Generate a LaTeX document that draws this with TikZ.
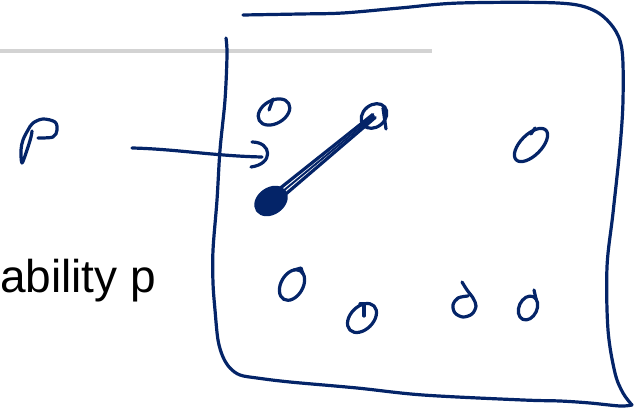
\documentclass[tikz,border=0pt]{standalone}
\usepackage{fontspec}
\setmainfont{Liberation Sans}
\usepackage{tikz}
\usetikzlibrary{shapes.geometric}
\definecolor{ink}{RGB}{4,36,104}
\definecolor{rulegray}{RGB}{211,211,211}

\begin{document}
\begin{tikzpicture}[
                x=1pt, y=-1pt,                % 像素坐标, y 向下
                pen/.style={draw=ink, line width=3.2pt, line cap=round, line join=round},
                dot/.style={ellipse, pen, inner sep=0pt},
                sketch/.style={pen, smooth, tension=0.55}
            ]
                \useasboundingbox (0,0) rectangle (639,411);

                % 灰色横线
                \draw[rulegray, line width=4pt] (0,51) -- (432,51);

                % 文字
                \node[anchor=base west, inner sep=0pt, font=\fontsize{46}{50}\selectfont] (txt) at (0,292) {ability p};

                % 手写 p
                \draw[sketch] plot coordinates {(38,138) (53,137) (57,130) (55,122) (43,119) (33,123)
                    (28,130) (23,140) (21,150) (22,163) (27,150) (31,137) (32,131)};

                % 外框
                \draw[sketch] plot coordinates {(243,15) (300,14) (343,13) (400,8) (460,3) (558,3)
                    (593,10) (613,27) (622,50) (623,100) (620,147) (613,213) (607,267) (608,330)
                    (615,373) (623,393) (632,405)};
                \draw[sketch] plot coordinates {(632,405) (620,406) (590,403) (560,401) (523,400)
                    (423,395) (357,388) (290,382) (257,378) (240,375) (230,368) (223,357) (218,340)
                    (215,310) (213,283) (213,250) (217,200) (220,150) (225,100) (227,55) (226,38)};

                % 节点
                \node[dot, minimum width=34, minimum height=23, rotate=30] (1) at (274,112) {};
                \node[dot, minimum width=28, minimum height=22, rotate=40] (2) at (374,116) {};
                \node[dot, fill=ink, minimum width=33, minimum height=24, rotate=35] (3) at (271,201) {};
                \node[dot, minimum width=42, minimum height=21, rotate=45] (4) at (531,145) {};
                \node[dot, minimum width=33, minimum height=22, rotate=60] (5) at (292,285) {};
                \node[dot, minimum width=34, minimum height=23, rotate=45] (6) at (362,318) {};
                \coordinate (7) at (465,306);
                \node[dot, minimum width=25, minimum height=18, rotate=65] (8) at (528,308) {};

                % 小笔画
                \draw[pen] (273,99) -- (269,110);
                \draw[pen] (383,108) -- (386,129);
                \draw[pen] (535,128) -- (531,134);
                \draw[pen] (294,270) -- (301,268) -- (303,274);
                \draw[pen] (360,304) -- (364,304) -- (364,316);
                \draw[pen] (534,290) -- (536,299);
                \draw[sketch] plot coordinates {(462,282) (467,290) (473,298) (476,306) (472,314)
                    (463,317) (455,313) (453,305) (458,298) (468,296)};

                % 边
                \draw[pen] ([shift={(2.8,3.3)}]3.center) -- ([shift={(1.2,1.5)}]2.center);
                \draw[pen] ([shift={(-2.8,-3.3)}]3.center) -- ([shift={(-1.2,-1.5)}]2.center);
                \draw[pen, line width=2pt] (3.center) -- (2.center);

                \coordinate (from) at (132,148);
                \coordinate (to) at (262,157);
                \draw[pen] (from) .. controls (175,149) and (215,156) .. (to);
                \draw[pen] (252,142) .. controls (272,142) and (274,164) .. (251,167);
            \end{tikzpicture}
\end{document}
